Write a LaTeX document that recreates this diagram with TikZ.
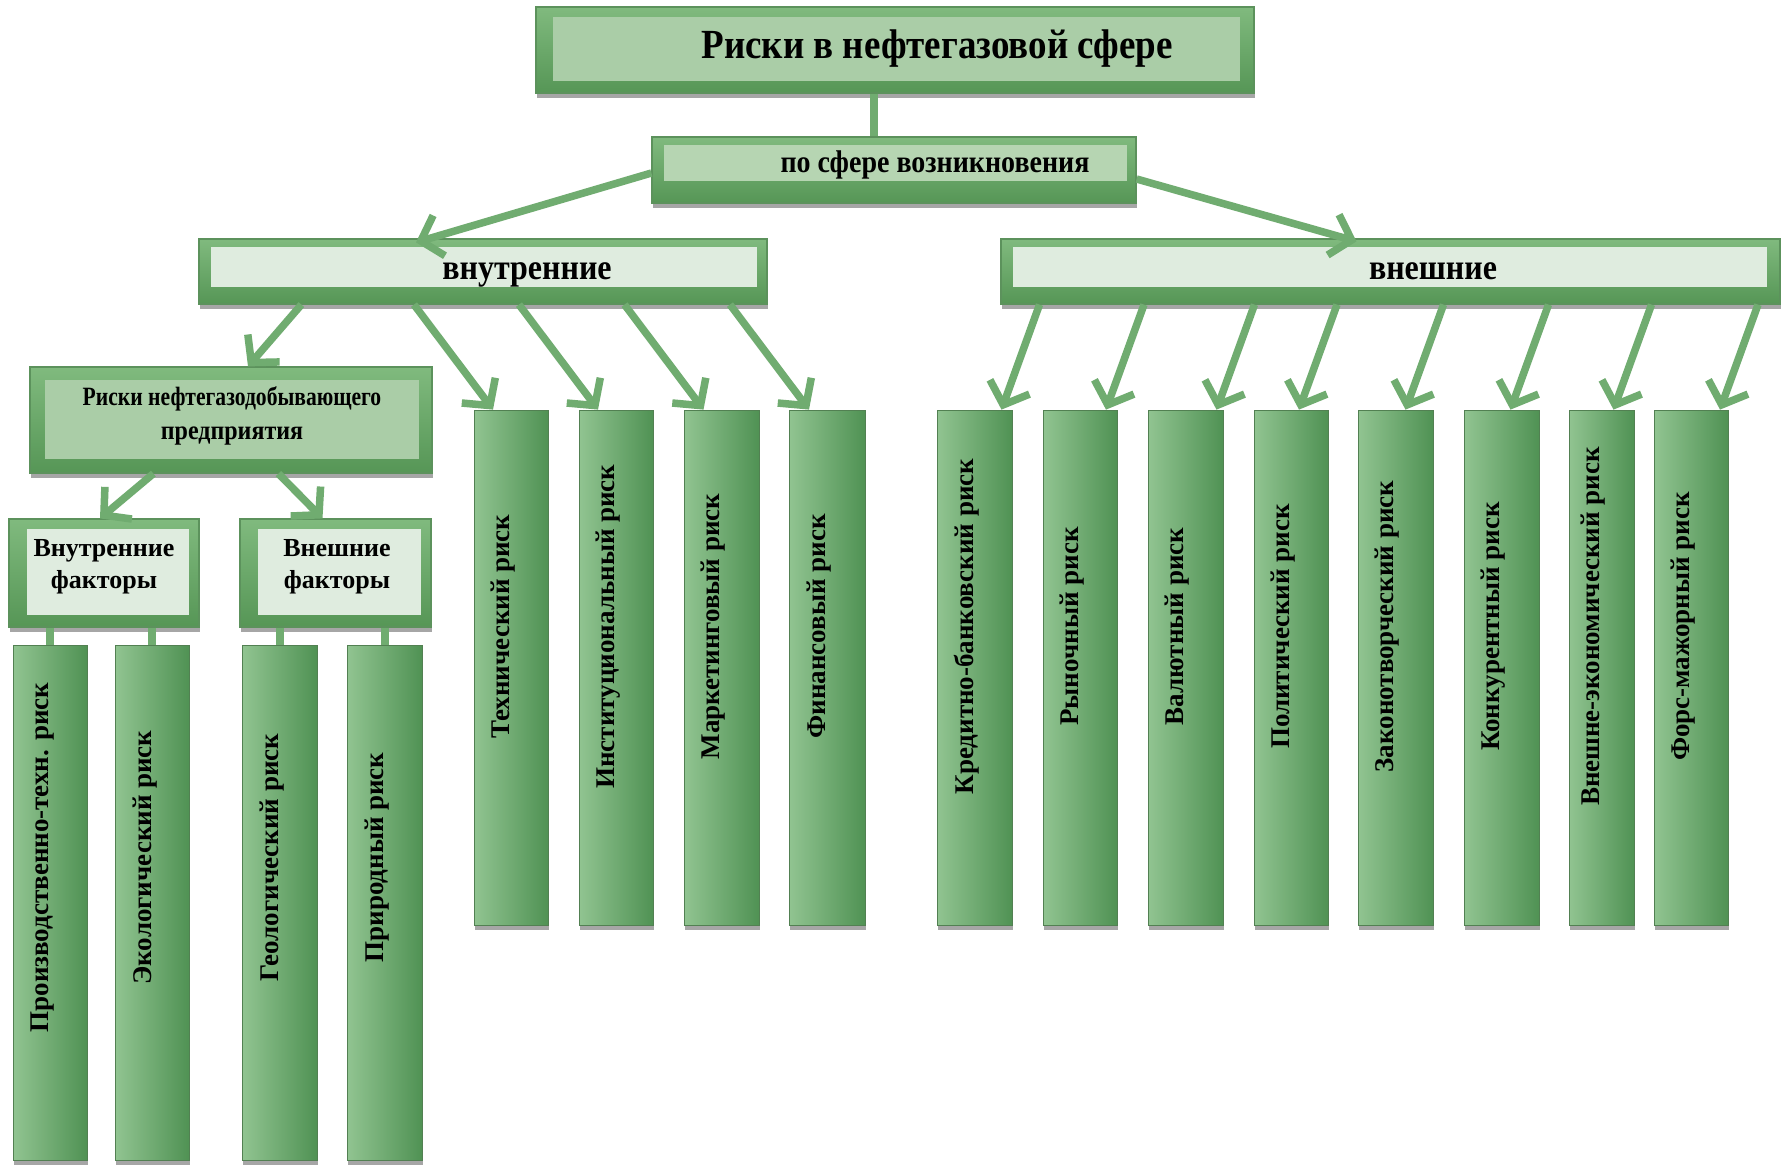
\documentclass[tikz,border=0pt]{standalone}
\usepackage{fontspec}
\setmainfont{Liberation Serif}
\usepackage{graphicx}
\usetikzlibrary{arrows.meta,shadows,calc,fit}
\definecolor{frametop}{RGB}{128,186,126}
\definecolor{framebot}{RGB}{86,150,86}
\definecolor{frameline}{RGB}{92,146,92}
\definecolor{midfill}{RGB}{170,205,167}
\definecolor{midfilltwo}{RGB}{182,213,178}
\definecolor{palefill}{RGB}{223,236,223}
\definecolor{talllight}{RGB}{145,196,145}
\definecolor{talldark}{RGB}{80,146,84}
\definecolor{tallline}{RGB}{82,128,82}
\definecolor{arrowg}{RGB}{112,172,112}
\newcommand{\tallt}[1]{\scalebox{1}[1.12]{#1}}
\begin{document}
\begin{tikzpicture}[x=1pt,y=-1pt,
  frame/.style={draw=frameline, line width=1.2pt, top color=frametop, bottom color=framebot, inner sep=0pt,
    drop shadow={shadow xshift=1pt, shadow yshift=-5pt, opacity=0.35, fill=black}},
  midin/.style={fill=midfill, draw=none, inner sep=0pt},
  midintwo/.style={fill=midfilltwo, draw=none, inner sep=0pt},
  palein/.style={fill=palefill, draw=none, inner sep=0pt},
  tall/.style={draw=tallline, line width=0.8pt, left color=talllight, right color=talldark, inner sep=0pt,
    drop shadow={shadow xshift=1pt, shadow yshift=-5pt, opacity=0.35, fill=black}},
  txt/.style={inner sep=0pt, text=black, anchor=base},
  vtxt/.style={inner sep=0pt, rotate=90, font=\fontsize{27}{30}\selectfont\bfseries},
  conn/.style={draw=arrowg, line width=8pt},
  arr/.style={draw=arrowg, line width=7.5pt, -{Straight Barb[length=19pt,width=42pt]}}
]
\useasboundingbox (0,0) rectangle (1787,1168);
\fill[white] (0,0) rectangle (1787,1168);

% title
\node[frame, fit={(536,7) (1254,93)}] (title) {};
\node[midin, fit={(553,17) (1240,81)}] (titlein) {};
\node[txt, font=\fontsize{37}{40}\selectfont\bfseries] (titletxt) at (937,58) {\tallt{Риски в нефтегазовой сфере}};

% po sfere
\node[frame, fit={(652,137) (1136,203)}] (sfera) {};
\node[midintwo, fit={(664,145) (1127,181)}] (sferain) {};
\node[txt, font=\fontsize{28}{30}\selectfont\bfseries] (sferatxt) at (935,172) {\tallt{по сфере возникновения}};

\draw[conn] ([xshift=-21pt]title.south) -- ([xshift=-21pt]title.south |- sfera.north);

% vnutr / vnesh
\node[frame, fit={(199,239) (767,304)}] (vnutr) {};
\node[palein, fit={(211,247) (757,287)}] (vnutrin) {};
\node[txt, font=\fontsize{32}{36}\selectfont\bfseries] (vnutrtxt) at (527,279) {\tallt{внутренние}};
\node[frame, fit={(1001,239) (1780,304)}] (vnesh) {};
\node[palein, fit={(1013,247) (1767,287)}] (vneshin) {};
\node[txt, font=\fontsize{32}{36}\selectfont\bfseries] (vneshtxt) at (1433,279) {\tallt{внешние}};

% predpriyatie
\node[frame, fit={(30,367) (432,473)}] (predp) {};
\node[midin, fit={(45,380) (419,459)}] (predpin) {};
\node[txt, anchor=center, align=center, font=\fontsize{24}{34}\selectfont\bfseries] (predptxt) at (232,416)
  {\scalebox{0.9}[1.1]{Риски нефтегазодобывающего}\\\tallt{предприятия}};

% factors
\node[frame, fit={(9,519) (199,627)}] (fac1) {};
\node[palein, fit={(27,529) (189,615)}] (fac1in) {};
\node[txt, anchor=center, align=center, font=\fontsize{26}{32}\selectfont\bfseries] (fac1txt) at (104,567) {Внутренние\\факторы};
\node[frame, fit={(240,519) (431,627)}] (fac2) {};
\node[palein, fit={(258,529) (421,615)}] (fac2in) {};
\node[txt, anchor=center, align=center, font=\fontsize{26}{32}\selectfont\bfseries] (fac2txt) at (337,567) {Внешние\\факторы};

% left group
\foreach \n/\a/\b/\f/\lbl in {l1/13/87/fac1/{Производственно-техн. риск}, l2/115/189/fac1/{Экологический риск}, l3/242/317/fac2/{Геологический риск}, l4/347/422/fac2/{Природный риск}}{
  \node[tall, fit={(\a,645) (\b,1160)}] (\n) {};
  \draw[conn] (\n.north) -- (\n.north |- \f.south);
  \node[vtxt] (\n-t) at ($(\n.center)+(-7,-45)$) {\lbl};
}

% middle group
\foreach \n/\a/\b/\lbl in {m1/474/548/{Технический риск}, m2/579/653/{Институциональный риск}, m3/684/759/{Маркетинговый риск}, m4/789/865/{Финансовый риск}}{
  \node[tall, fit={(\a,410) (\b,925)}] (\n) {};
  \node[vtxt] (\n-t) at ($(\n.center)+(-8,-41)$) {\lbl};
}

% right group
\foreach \n/\a/\b/\lbl in {r1/937/1012/{Кредитно-банковский риск}, r2/1043/1117/{Рыночный риск}, r3/1148/1223/{Валютный риск}, r4/1254/1328/{Политический риск}, r5/1358/1433/{Законотворческий риск}, r6/1464/1539/{Конкурентный риск}, r7/1569/1634/{Внешне-экономический риск}, r8/1654/1728/{Форс-мажорный риск}}{
  \node[tall, fit={(\a,410) (\b,925)}] (\n) {};
  \node[vtxt] (\n-t) at ($(\n.center)+(-8,-41)$) {\lbl};
}

% arrows
\draw[arr] ([yshift=-3pt]sfera.west) -- ($(vnutr.north)+(-67,4)$);
\draw[arr] ([yshift=-9pt]sfera.east) -- ($(vnesh.north)+(-34,3)$);
\draw[arr] ($(vnutr.south west)+(103,0)$) -- ($(predp.north)+(17,0)$);
\foreach \m in {m1,m2,m3,m4}{
  \coordinate (s\m) at ($(\m.north)+(-97,0)$);
  \draw[arr] (s\m |- vnutr.south) -- ($(\m.north)+(-18,0)$);
}
\foreach \m/\o in {r1/27,r2/26,r3/31,r4/8,r5/10,r6/9,r7/12,r8/29}{
  \coordinate (s\m) at ($(\m.north)+(\o+38,0)$);
  \draw[arr] (s\m |- vnesh.south) -- ($(\m.north)+(\o,0)$);
}
\draw[arr] ($(predp.south west)+(124,0)$) -- ($(fac1.north)+(-4,0)$);
\draw[arr] ($(predp.south west)+(249,0)$) -- ($(fac2.north)+(-13,0)$);
\end{tikzpicture}
\end{document}
